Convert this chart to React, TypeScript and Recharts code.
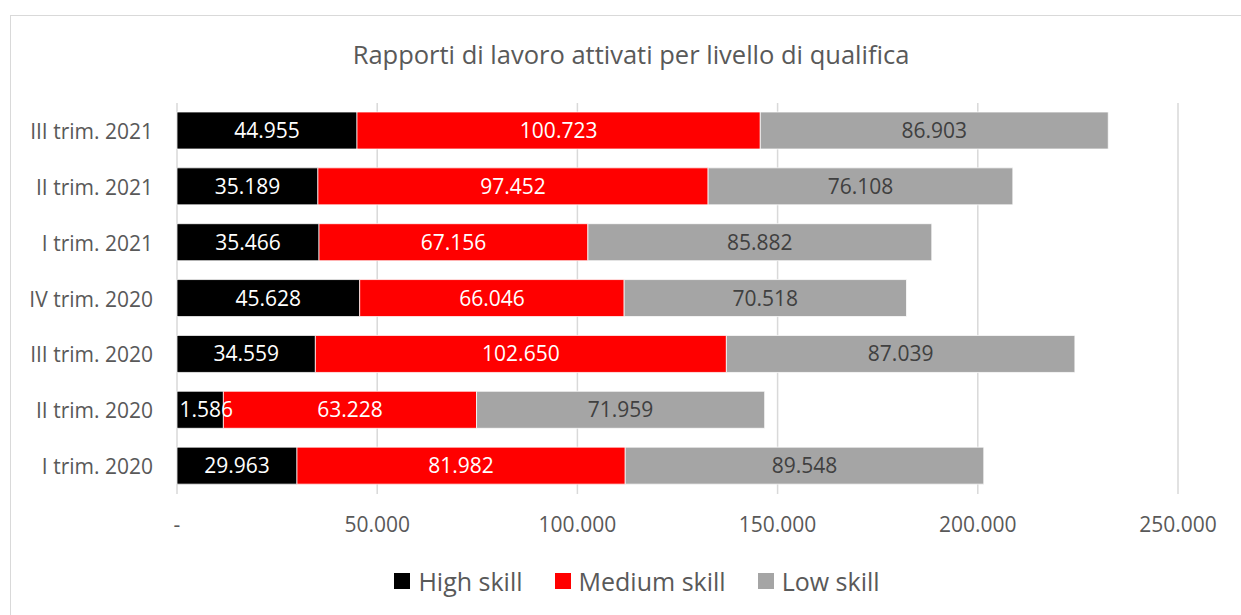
import React from 'react';
import { BarChart, Bar, XAxis, YAxis, CartesianGrid, LabelList } from 'recharts';

const categories = ['III trim. 2021', 'II trim. 2021', 'I trim. 2021', 'IV trim. 2020', 'III trim. 2020', 'II trim. 2020', 'I trim. 2020'];
const highSkill = [44955, 35189, 35466, 45628, 34559, 11586, 29963];
const mediumSkill = [100723, 97452, 67156, 66046, 102650, 63228, 81982];
const lowSkill = [86903, 76108, 85882, 70518, 87039, 71959, 89548];
const xTicks = [0, 50000, 100000, 150000, 200000, 250000];

const data = categories.map((c, i) => ({ cat: c, high: highSkill[i], medium: mediumSkill[i], low: lowSkill[i] }));

const FONT = '"Open Sans", sans-serif';
const TEXT = '#595959';

const fmt = (v: number) => {
  if (v === 0) return '-';
  return String(Math.round(v)).replace(/\B(?=(\d{3})+(?!\d))/g, '.');
};

const YTick = (props: any) => {
  const { x, y, payload } = props;
  return (
    <text x={x - 16} y={y} textAnchor="end" dominantBaseline="central" fill={TEXT} fontSize={21} fontFamily={FONT}>
      {payload.value}
    </text>
  );
};

const XTick = (props: any) => {
  const { x, payload } = props;
  return (
    <text x={x} y={524} textAnchor="middle" dominantBaseline="central" fill={TEXT} fontSize={21} fontFamily={FONT}>
      {fmt(payload.value)}
    </text>
  );
};

const legendItems = [
  { name: 'High skill', color: '#000000' },
  { name: 'Medium skill', color: '#ff0000' },
  { name: 'Low skill', color: '#a5a5a5' },
];

export default function App() {
  return (
    <div style={{ position: 'absolute', left: 0, top: 0, width: 1241, height: 615, background: '#fff', overflow: 'hidden' }}>
      <div style={{ position: 'absolute', left: 10, top: 15, width: 1300, height: 700, border: '1px solid #d9d9d9', boxSizing: 'border-box' }} />
      <div style={{ position: 'absolute', left: 0, top: 36, width: 1262, textAlign: 'center', fontFamily: FONT, fontSize: 25.5, color: TEXT, lineHeight: '36px' }}>
        Rapporti di lavoro attivati per livello di qualifica
      </div>
      <div style={{ position: 'absolute', left: 0, top: 0 }}>
        <BarChart
          width={1241}
          height={615}
          data={data}
          layout="vertical"
          margin={{ top: 103, right: 63, bottom: 91, left: 0 }}
          barSize={37}
        >
          <CartesianGrid horizontal={false} vertical={true} stroke="#d9d9d9" strokeWidth={1.5} />
          <XAxis
            type="number"
            domain={[0, 250000]}
            ticks={xTicks}
            axisLine={false}
            tickLine={false}
            tick={<XTick />}
            height={30}
            interval={0}
          />
          <YAxis
            type="category"
            dataKey="cat"
            width={177}
            axisLine={false}
            tickLine={false}
            tick={<YTick />}
            interval={0}
          />
          <Bar dataKey="high" stackId="a" fill="#000000" stroke="#ffffff" strokeWidth={0.75} isAnimationActive={false}>
            <LabelList dataKey="high" position="center" formatter={(v: any) => fmt(v)} fill="#ffffff" fontSize={21} fontFamily={FONT} />
          </Bar>
          <Bar dataKey="medium" stackId="a" fill="#ff0000" stroke="#ffffff" strokeWidth={0.75} isAnimationActive={false}>
            <LabelList dataKey="medium" position="center" formatter={(v: any) => fmt(v)} fill="#ffffff" fontSize={21} fontFamily={FONT} />
          </Bar>
          <Bar dataKey="low" stackId="a" fill="#a5a5a5" stroke="#ffffff" strokeWidth={0.75} isAnimationActive={false}>
            <LabelList dataKey="low" position="center" formatter={(v: any) => fmt(v)} fill="#404040" fontSize={21} fontFamily={FONT} />
          </Bar>
        </BarChart>
      </div>
      <div style={{ position: 'absolute', left: 0, top: 564, width: 1274, display: 'flex', justifyContent: 'center', fontFamily: FONT, fontSize: 25, color: TEXT, lineHeight: '34px' }}>
        {legendItems.map((it, i) => (
          <div key={it.name} style={{ display: 'flex', alignItems: 'center', marginLeft: i === 0 ? 0 : 32 }}>
            <span style={{ display: 'inline-block', width: 16, height: 16, background: it.color, marginRight: 8 }} />
            <span>{it.name}</span>
          </div>
        ))}
      </div>
    </div>
  );
}
